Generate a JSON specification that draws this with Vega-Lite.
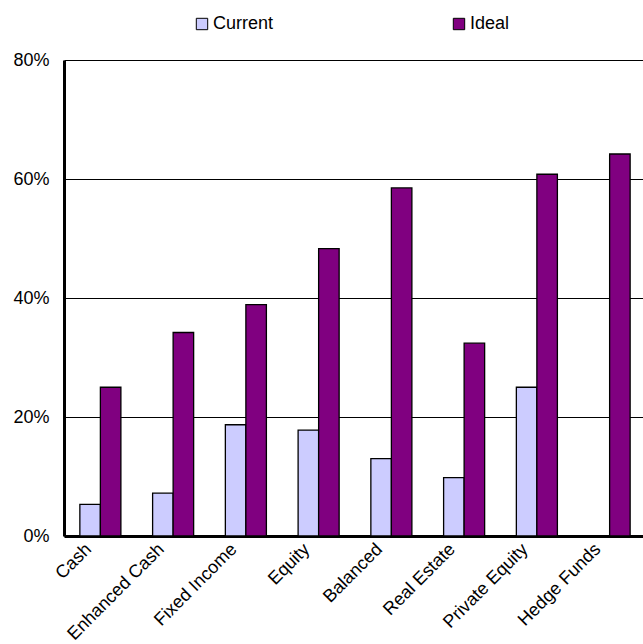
{
  "$schema": "https://vega.github.io/schema/vega-lite/v6.json",
  "autosize": {"type": "none"},
  "padding": {"left": 64, "top": 60, "right": 0, "bottom": 108},
  "width": 579,
  "height": 476,
  "background": "white",
  "config": {
    "view": {"stroke": null},
    "font": "Liberation Sans",
    "axis": {"labelFont": "Liberation Sans", "labelColor": "#000"},
    "legend": {"labelFont": "Liberation Sans", "labelColor": "#000"}
  },
  "data": {
    "values": [
      {"asset": "Cash", "series": "Current", "share": 0.053},
      {"asset": "Cash", "series": "Ideal", "share": 0.250},
      {"asset": "Enhanced Cash", "series": "Current", "share": 0.072},
      {"asset": "Enhanced Cash", "series": "Ideal", "share": 0.342},
      {"asset": "Fixed Income", "series": "Current", "share": 0.187},
      {"asset": "Fixed Income", "series": "Ideal", "share": 0.389},
      {"asset": "Equity", "series": "Current", "share": 0.178},
      {"asset": "Equity", "series": "Ideal", "share": 0.483},
      {"asset": "Balanced", "series": "Current", "share": 0.130},
      {"asset": "Balanced", "series": "Ideal", "share": 0.585},
      {"asset": "Real Estate", "series": "Current", "share": 0.098},
      {"asset": "Real Estate", "series": "Ideal", "share": 0.324},
      {"asset": "Private Equity", "series": "Current", "share": 0.250},
      {"asset": "Private Equity", "series": "Ideal", "share": 0.608},
      {"asset": "Hedge Funds", "series": "Ideal", "share": 0.642}
    ]
  },
  "mark": {"type": "bar", "stroke": "#000", "strokeWidth": 1.3},
  "encoding": {
    "x": {
      "field": "asset",
      "type": "nominal",
      "sort": null,
      "scale": {"paddingInner": 0.436, "paddingOuter": 0.218, "range": [0, 582]},
      "axis": {
        "title": null,
        "labelAngle": -45,
        "labelFontSize": 18,
        "ticks": false,
        "labelPadding": 4,
        "labelOffset": -18,
        "domainColor": "#000",
        "domainWidth": 3,
        "grid": false,
        "labelOverlap": false
      }
    },
    "xOffset": {"field": "series", "type": "nominal", "scale": {"domain": ["Current", "Ideal"], "paddingInner": 0, "paddingOuter": 0}},
    "y": {
      "field": "share",
      "type": "quantitative",
      "scale": {"domain": [0, 0.8], "nice": false},
      "axis": {
        "title": null,
        "values": [0, 0.2, 0.4, 0.6, 0.8],
        "format": ".0%",
        "labelFontSize": 18,
        "ticks": false,
        "labelPadding": 15,
        "domainColor": "#000",
        "domainWidth": 3,
        "gridColor": "#000",
        "gridWidth": 1,
        "gridOpacity": 1
      }
    },
    "color": {
      "field": "series",
      "type": "nominal",
      "scale": {"domain": ["Current", "Ideal"], "range": ["#CCCCFF", "#800080"]},
      "legend": {
        "title": null,
        "orient": "none",
        "direction": "horizontal",
        "legendX": 129,
        "legendY": -45,
        "symbolType": "square",
        "symbolSize": 130,
        "symbolStrokeColor": "#000",
        "symbolStrokeWidth": 1,
        "symbolOpacity": 1,
        "labelFontSize": 18,
        "labelOffset": 2,
        "columnPadding": 176
      }
    }
  }
}
